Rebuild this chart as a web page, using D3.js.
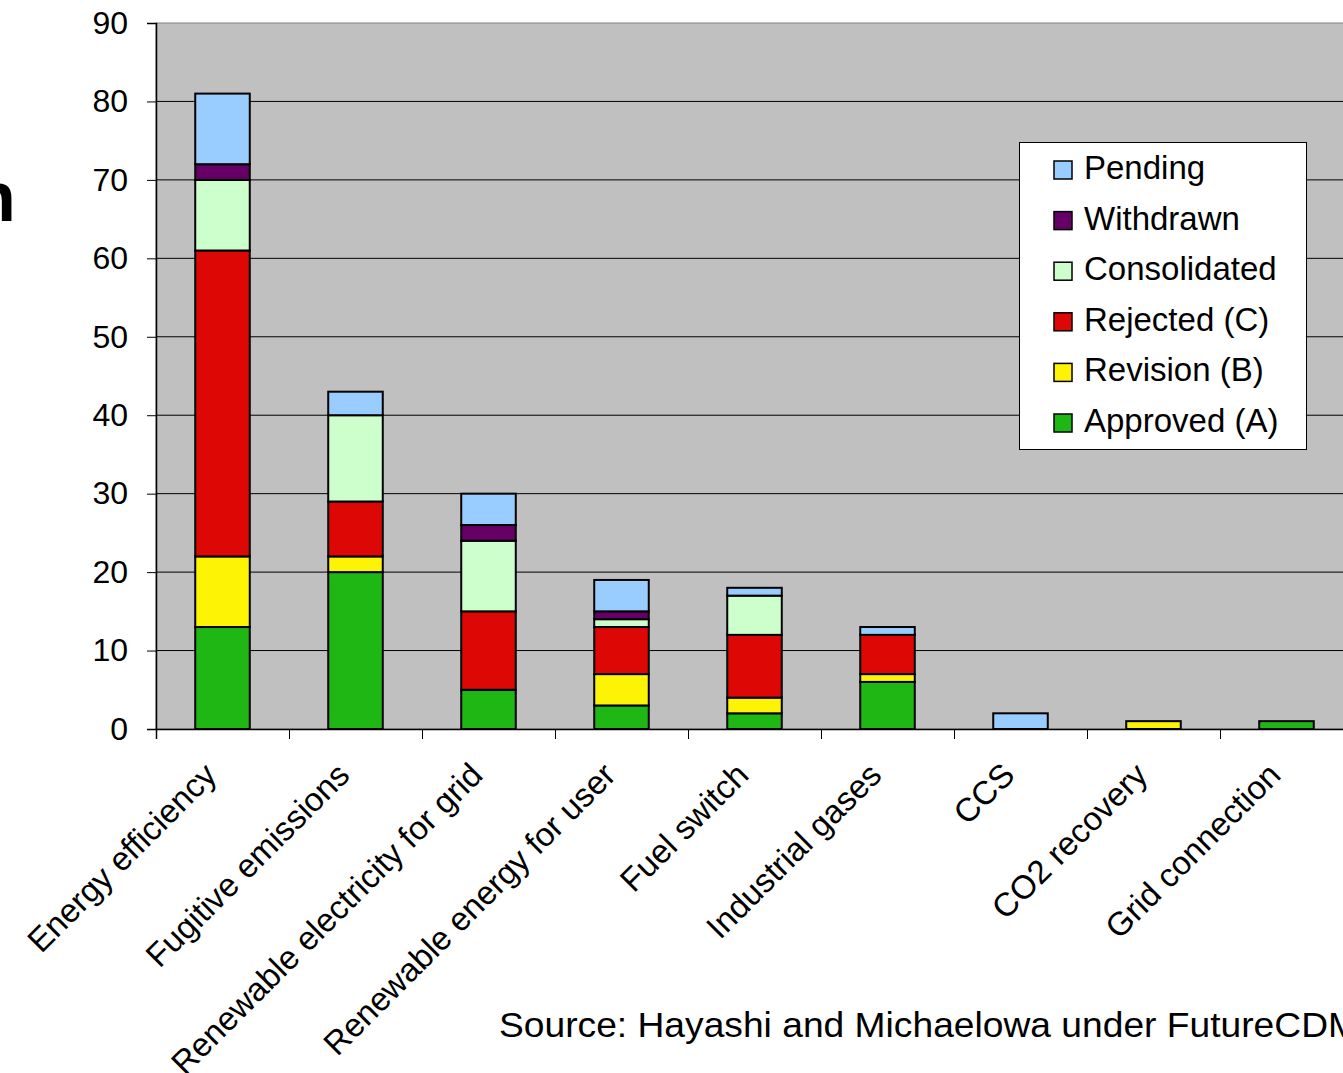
<!DOCTYPE html>
<html>
<head>
<meta charset="utf-8">
<script src="https://cdn.jsdelivr.net/npm/d3@7"></script>
<style>
  body { margin: 0; background: #fff; }
  svg { display: block; font-family: "Liberation Sans", Arial, sans-serif; }
  .tick text { font-size: 32px; fill: #000; }
</style>
</head>
<body>
<div id="chart"></div>
<script>
// categories and stacked values (number of methodologies)
var categories = ["Energy efficiency", "Fugitive emissions", "Renewable electricity for grid",
  "Renewable energy for user", "Fuel switch", "Industrial gases", "CCS", "CO2 recovery", "Grid connection"];

var approved     = [13, 20, 5, 3, 2, 6, 0, 0, 1];
var revision     = [9, 2, 0, 4, 2, 1, 0, 1, 0];
var rejected     = [39, 7, 10, 6, 8, 5, 0, 0, 0];
var consolidated = [9, 11, 9, 1, 5, 0, 0, 0, 0];
var withdrawn    = [2, 0, 2, 1, 0, 0, 0, 0, 0];
var pending      = [9, 3, 4, 4, 1, 1, 2, 0, 0];

var yTicks = [0, 10, 20, 30, 40, 50, 60, 70, 80, 90];

var series = [
  ["Approved (A)", approved, "#1fb714"],
  ["Revision (B)", revision, "#fcf305"],
  ["Rejected (C)", rejected, "#dd0806"],
  ["Consolidated", consolidated, "#ccffcc"],
  ["Withdrawn", withdrawn, "#660066"],
  ["Pending", pending, "#99ccff"]
];

var W = 1343, H = 1073;
var pLeft = 156, pRight = 1353, pTop = 23, pBottom = 729;

var svg = d3.select("#chart").append("svg")
    .attr("width", W)
    .attr("height", H);

var x = d3.scaleBand()
  .domain(categories)
  .range([pLeft, pRight])
  .paddingInner(0.59)
  .paddingOuter(0.295);

var y = d3.scaleLinear()
  .domain([0, 90])
  .range([pBottom, pTop]);

// plot background
svg.append("rect")
  .attr("x", pLeft).attr("y", pTop)
  .attr("width", pRight - pLeft).attr("height", pBottom - pTop)
  .attr("fill", "#c0c0c0")
  .attr("stroke", "#808080");

// gridlines
svg.append("g").selectAll("line")
  .data(yTicks.slice(1, -1))
  .join("line")
  .attr("x1", pLeft).attr("x2", pRight)
  .attr("y1", d => y(d)).attr("y2", d => y(d))
  .attr("stroke", "#000")
  .attr("stroke-width", 1);

// stacked bars
var table = categories.map(function(c, i) {
  var row = {cat: c};
  series.forEach(s => row[s[0]] = s[1][i]);
  return row;
});
var stack = d3.stack().keys(series.map(s => s[0]))(table);

svg.append("g").selectAll("g")
  .data(stack)
  .join("g")
  .attr("fill", (d, i) => series[i][2])
  .selectAll("rect")
  .data(d => d.filter(p => p[1] - p[0] > 0))
  .join("rect")
  .attr("x", d => x(d.data.cat))
  .attr("width", x.bandwidth())
  .attr("y", d => y(d[1]))
  .attr("height", d => y(d[0]) - y(d[1]))
  .attr("stroke", "#000")
  .attr("stroke-width", 2);

// y axis
svg.append("g")
  .attr("transform", "translate(" + pLeft + ",0)")
  .call(d3.axisLeft(y).tickValues(yTicks).tickSize(9).tickPadding(19))
  .call(g => g.select(".domain").attr("stroke", "#000").attr("stroke-width", 1.5))
  .call(g => g.selectAll(".tick line").attr("stroke", "#000"))
  .call(g => g.selectAll(".tick text").attr("font-family", null).attr("font-size", null));

// x axis with boundary ticks
var xb = d3.scaleLinear().domain([0, categories.length]).range([pLeft, pRight]);
svg.append("g")
  .attr("transform", "translate(0," + pBottom + ")")
  .call(d3.axisBottom(xb).tickValues(d3.range(categories.length + 1)).tickSize(10).tickFormat(""))
  .call(g => g.select(".domain").attr("stroke", "#000").attr("stroke-width", 1.5))
  .call(g => g.selectAll(".tick line").attr("stroke", "#000"));

// category labels
svg.append("g").selectAll("text")
  .data(categories)
  .join("text")
  .attr("text-anchor", "end")
  .attr("font-size", 33)
  .attr("transform", d => "translate(" + (x(d) + x.bandwidth() / 2 - 4) + "," + (pBottom + 48) + ") rotate(-45)")
  .text(d => d);

// legend
var lg = svg.append("g");
lg.append("rect")
  .attr("x", 1019.5).attr("y", 142.5)
  .attr("width", 287).attr("height", 307)
  .attr("fill", "#fff").attr("stroke", "#000");

var legendItems = series.slice().reverse();
var li = lg.selectAll("g.item")
  .data(legendItems)
  .join("g")
  .attr("class", "item")
  .attr("transform", (d, i) => "translate(1054," + (161 + i * 50.6) + ")");
li.append("rect")
  .attr("width", 18).attr("height", 18)
  .attr("fill", d => d[2])
  .attr("stroke", "#000").attr("stroke-width", 1.5);
li.append("text")
  .attr("x", 30).attr("y", 18)
  .attr("font-size", 33)
  .text(d => d[0]);

// source note
svg.append("text")
  .attr("x", 499).attr("y", 1037)
  .attr("font-size", 35)
  .attr("textLength", 860)
  .attr("lengthAdjust", "spacingAndGlyphs")
  .text("Source: Hayashi and Michaelowa under FutureCDM");

// clipped slide title fragment at left edge
svg.append("text")
  .attr("x", -27).attr("y", 221)
  .attr("font-size", 70)
  .attr("font-weight", "bold")
  .text("n");
</script>
</body>
</html>
